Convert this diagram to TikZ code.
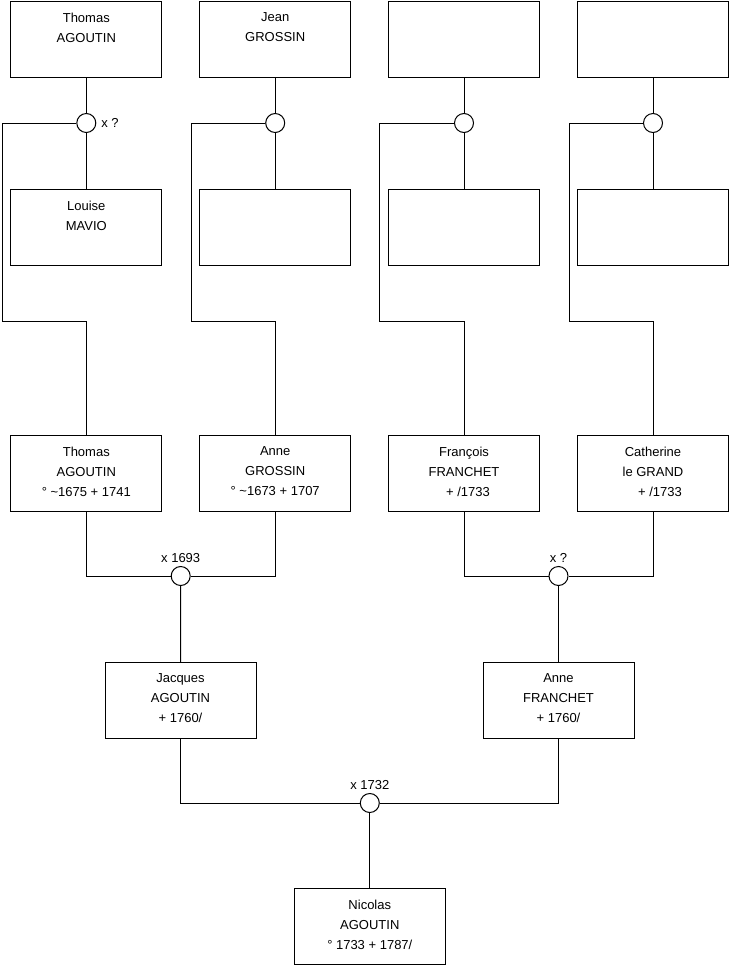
\documentclass[tikz,border=0pt]{standalone}
\usepackage{fontspec}
\setmainfont{Liberation Sans}
\begin{document}
\begin{tikzpicture}[x=1pt,y=-1pt,line width=1pt,
  person/.style={draw,minimum width=151pt,minimum height=76pt,inner sep=0pt,anchor=north},
  union/.style={draw,circle,minimum size=19pt,inner sep=0pt,fill=white},
  names/.style={anchor=north,align=center,inner sep=0pt,font=\fontsize{13}{20}\selectfont,yshift=-11.4pt},
  tag/.style={font=\fontsize{13}{15}\selectfont,inner sep=0pt}]
\useasboundingbox (0,0) rectangle (740,975);

% row 1
\node[person] (t1) at (86.3,1) {};
\node[person] (t2) at (275.2,1) {};
\node[person] (t3) at (464,1) {};
\node[person] (t4) at (653,1) {};
\node[names] (t1x) at (t1.north) {Thomas\\AGOUTIN};
\node[names] (t2x) at (t2.north) {Jean\\GROSSIN};

% row 2
\node[person] (s1) at (86.3,189) {};
\node[person] (s2) at (275.2,189) {};
\node[person] (s3) at (464,189) {};
\node[person] (s4) at (653,189) {};
\node[names] (s1x) at (s1.north) {Louise\\MAVIO};

% row 3
\node[person] (p1) at (86.3,435) {};
\node[person] (p2) at (275.2,435) {};
\node[person] (p3) at (464,435) {};
\node[person] (p4) at (653,435) {};
\node[names] (p1x) at (p1.north) {Thomas\\AGOUTIN\\° \textasciitilde1675 + 1741};
\node[names] (p2x) at (p2.north) {Anne\\GROSSIN\\° \textasciitilde1673 + 1707};
\node[names] (p3x) at (p3.north) {François\\FRANCHET\\\hspace*{8pt}+ /1733};
\node[names] (p4x) at (p4.north) {Catherine\\le GRAND\\\hspace*{14pt}+ /1733};

% row 4
\node[person] (q1) at (180.5,662) {};
\node[person] (q2) at (558.5,662) {};
\node[names] (q1x) at (q1.north) {Jacques\\AGOUTIN\\+ 1760/};
\node[names] (q2x) at (q2.north) {Anne\\FRANCHET\\+ 1760/};

% row 5
\node[person] (n) at (369.8,888) {};
\node[names] (nx) at (n.north) {Nicolas\\AGOUTIN\\° 1733 + 1787/};

% unions, top
\node[union] (m1) at (86.3,123) {};
\node[union] (m2) at (275.2,123) {};
\node[union] (m3) at (464,123) {};
\node[union] (m4) at (653,123) {};
\node[tag,anchor=west] (m1l) at ([xshift=4.5pt]m1.east) {x ?};

\coordinate (k1) at (2.5,321);
\coordinate (k2) at (191,321);
\coordinate (k3) at (379,321);
\coordinate (k4) at (569,321);

\foreach \i in {1,2,3,4}{
  \draw (t\i.south) -- (m\i.north);
  \draw (m\i.south) -- (s\i.north);
  \draw (m\i.west) -| (k\i) -| (p\i.north);
}

% unions, middle
\node[union] (j1) at (180.7,576) {};
\node[union] (j2) at (558.5,576) {};
\node[tag,anchor=base] (j1l) at ([yshift=3.8pt]j1.north) {x 1693};
\node[tag,anchor=base] (j2l) at ([yshift=3.8pt]j2.north) {x ?};
\draw (p1.south) |- (j1.west);
\draw (p2.south) |- (j1.east);
\draw (j1.south) -- (q1.north);
\draw (p3.south) |- (j2.west);
\draw (p4.south) |- (j2.east);
\draw (j2.south) -- (q2.north);

% union, bottom
\node[union] (j3) at (369.8,803) {};
\node[tag,anchor=base] (j3l) at ([yshift=3.8pt]j3.north) {x 1732};
\draw (q1.south) |- (j3.west);
\draw (q2.south) |- (j3.east);
\draw (j3.south) -- (n.north);
\end{tikzpicture}
\end{document}
